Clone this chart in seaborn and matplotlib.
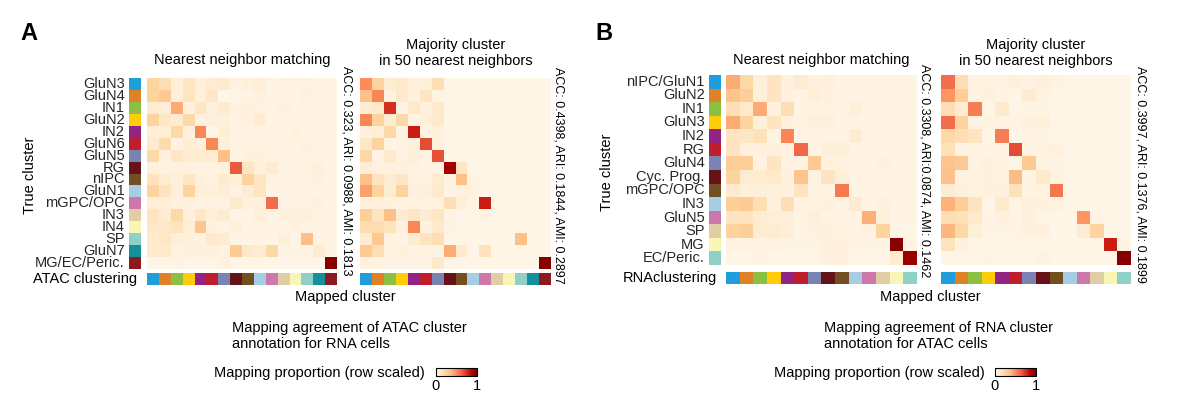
import numpy as np
import pandas as pd
import matplotlib
matplotlib.use("Agg")
import matplotlib.pyplot as plt
import seaborn as sns
from matplotlib.colors import ListedColormap
from matplotlib.cm import ScalarMappable
from matplotlib.colors import Normalize

# ---------------- data ----------------
labels_A = ["GluN3", "GluN4", "IN1", "GluN2", "IN2", "GluN6", "GluN5", "RG", "nIPC",
            "GluN1", "mGPC/OPC", "IN3", "IN4", "SP", "GluN7", "MG/EC/Peric."]
labels_B = ["nIPC/GluN1", "GluN2", "IN1", "GluN3", "IN2", "RG", "GluN4", "Cyc. Prog.",
            "mGPC/OPC", "IN3", "GluN5", "SP", "MG", "EC/Peric."]

cluster_colors = ["#1e9fda", "#df8127", "#8bc043", "#fecd07", "#932484", "#bf1f2c",
                  "#7b83b4", "#651219", "#714f21", "#a5cde4", "#cc78aa", "#e1cda5",
                  "#f9f5b4", "#8fd1c7", "#139099", "#8c1a1e"]

A_nn = [
    [0.25, 0.18, 0.07, 0.14, 0.06, 0.10, 0.11, 0.04, 0.06, 0.08, 0.03, 0.04, 0.04, 0.04, 0.03, 0.03],
    [0.25, 0.30, 0.07, 0.15, 0.06, 0.13, 0.01, 0.02, 0.03, 0.05, 0.03, 0.03, 0.03, 0.05, 0.03, 0.03],
    [0.10, 0.08, 0.42, 0.05, 0.14, 0.06, 0.10, 0.04, 0.05, 0.04, 0.03, 0.05, 0.03, 0.03, 0.03, 0.03],
    [0.25, 0.13, 0.09, 0.22, 0.05, 0.06, 0.06, 0.04, 0.05, 0.10, 0.03, 0.03, 0.03, 0.03, 0.03, 0.03],
    [0.08, 0.08, 0.22, 0.05, 0.52, 0.02, 0.08, 0.04, 0.04, 0.03, 0.03, 0.03, 0.05, 0.03, 0.03, 0.03],
    [0.11, 0.21, 0.04, 0.08, 0.07, 0.52, 0.07, 0.03, 0.03, 0.03, 0.03, 0.03, 0.03, 0.05, 0.03, 0.03],
    [0.22, 0.05, 0.13, 0.09, 0.10, 0.09, 0.35, 0.03, 0.05, 0.05, 0.04, 0.04, 0.04, 0.04, 0.03, 0.03],
    [0.06, 0.04, 0.05, 0.05, 0.04, 0.04, 0.05, 0.65, 0.14, 0.06, 0.09, 0.03, 0.03, 0.03, 0.06, 0.03],
    [0.16, 0.10, 0.06, 0.14, 0.06, 0.04, 0.09, 0.08, 0.26, 0.14, 0.04, 0.03, 0.03, 0.03, 0.05, 0.03],
    [0.25, 0.16, 0.07, 0.25, 0.07, 0.06, 0.08, 0.04, 0.09, 0.15, 0.03, 0.03, 0.03, 0.03, 0.03, 0.03],
    [0.08, 0.08, 0.05, 0.05, 0.04, 0.04, 0.04, 0.12, 0.06, 0.05, 0.60, 0.03, 0.03, 0.03, 0.05, 0.03],
    [0.15, 0.10, 0.22, 0.06, 0.13, 0.07, 0.09, 0.03, 0.03, 0.06, 0.03, 0.05, 0.05, 0.06, 0.03, 0.03],
    [0.13, 0.13, 0.16, 0.08, 0.32, 0.05, 0.04, 0.06, 0.03, 0.04, 0.03, 0.03, 0.05, 0.03, 0.03, 0.03],
    [0.10, 0.13, 0.07, 0.05, 0.04, 0.12, 0.09, 0.03, 0.03, 0.03, 0.03, 0.07, 0.03, 0.36, 0.03, 0.03],
    [0.11, 0.12, 0.04, 0.06, 0.05, 0.06, 0.04, 0.30, 0.12, 0.09, 0.22, 0.03, 0.03, 0.03, 0.09, 0.03],
    [0.02, 0.02, 0.03, 0.02, 0.02, 0.02, 0.05, 0.02, 0.02, 0.02, 0.02, 0.02, 0.02, 0.02, 0.02, 0.98],
]

A_major = [
    [0.50, 0.25, 0.09, 0.12, 0.06, 0.07, 0.18, 0.02, 0.02, 0.02, 0.02, 0.02, 0.02, 0.02, 0.02, 0.02],
    [0.34, 0.52, 0.04, 0.12, 0.05, 0.15, 0.03, 0.02, 0.02, 0.02, 0.02, 0.02, 0.02, 0.02, 0.02, 0.02],
    [0.09, 0.12, 0.75, 0.03, 0.12, 0.05, 0.12, 0.02, 0.02, 0.02, 0.02, 0.02, 0.02, 0.02, 0.02, 0.02],
    [0.52, 0.25, 0.09, 0.22, 0.03, 0.07, 0.12, 0.02, 0.02, 0.02, 0.02, 0.02, 0.02, 0.02, 0.02, 0.02],
    [0.06, 0.08, 0.22, 0.03, 0.80, 0.04, 0.06, 0.02, 0.02, 0.02, 0.02, 0.02, 0.02, 0.02, 0.02, 0.02],
    [0.13, 0.25, 0.03, 0.04, 0.06, 0.68, 0.06, 0.02, 0.02, 0.02, 0.02, 0.02, 0.02, 0.02, 0.02, 0.02],
    [0.23, 0.03, 0.12, 0.04, 0.07, 0.04, 0.67, 0.02, 0.02, 0.02, 0.02, 0.02, 0.02, 0.02, 0.02, 0.02],
    [0.08, 0.05, 0.05, 0.05, 0.04, 0.03, 0.03, 0.90, 0.14, 0.02, 0.02, 0.02, 0.02, 0.02, 0.02, 0.02],
    [0.35, 0.16, 0.09, 0.14, 0.04, 0.04, 0.09, 0.04, 0.35, 0.04, 0.02, 0.02, 0.02, 0.02, 0.02, 0.02],
    [0.45, 0.25, 0.09, 0.25, 0.05, 0.06, 0.12, 0.03, 0.05, 0.05, 0.02, 0.02, 0.02, 0.02, 0.02, 0.02],
    [0.05, 0.06, 0.05, 0.04, 0.04, 0.04, 0.04, 0.18, 0.07, 0.03, 0.80, 0.02, 0.02, 0.02, 0.02, 0.02],
    [0.27, 0.15, 0.35, 0.09, 0.14, 0.09, 0.14, 0.03, 0.02, 0.02, 0.04, 0.02, 0.02, 0.02, 0.02, 0.02],
    [0.20, 0.20, 0.16, 0.05, 0.52, 0.05, 0.12, 0.04, 0.02, 0.02, 0.02, 0.02, 0.02, 0.02, 0.02, 0.02],
    [0.09, 0.30, 0.04, 0.03, 0.09, 0.16, 0.18, 0.02, 0.02, 0.02, 0.02, 0.02, 0.02, 0.35, 0.02, 0.02],
    [0.30, 0.18, 0.04, 0.05, 0.04, 0.04, 0.03, 0.42, 0.12, 0.02, 0.16, 0.02, 0.02, 0.02, 0.02, 0.02],
    [0.05, 0.03, 0.03, 0.03, 0.03, 0.03, 0.12, 0.02, 0.02, 0.02, 0.02, 0.02, 0.02, 0.02, 0.02, 0.98],
]

B_nn = [
    [0.42, 0.22, 0.07, 0.15, 0.05, 0.09, 0.05, 0.06, 0.03, 0.03, 0.03, 0.03, 0.03, 0.03],
    [0.33, 0.28, 0.06, 0.15, 0.05, 0.03, 0.07, 0.05, 0.04, 0.03, 0.03, 0.03, 0.03, 0.03],
    [0.18, 0.12, 0.42, 0.05, 0.18, 0.03, 0.04, 0.04, 0.03, 0.07, 0.03, 0.03, 0.03, 0.03],
    [0.42, 0.25, 0.06, 0.15, 0.05, 0.04, 0.06, 0.06, 0.03, 0.03, 0.03, 0.03, 0.03, 0.03],
    [0.15, 0.13, 0.17, 0.04, 0.52, 0.03, 0.03, 0.03, 0.03, 0.10, 0.03, 0.03, 0.03, 0.03],
    [0.15, 0.05, 0.05, 0.06, 0.04, 0.62, 0.03, 0.07, 0.07, 0.03, 0.03, 0.03, 0.03, 0.03],
    [0.28, 0.28, 0.04, 0.15, 0.04, 0.03, 0.30, 0.05, 0.04, 0.03, 0.03, 0.05, 0.03, 0.03],
    [0.25, 0.09, 0.10, 0.12, 0.05, 0.33, 0.04, 0.15, 0.07, 0.03, 0.03, 0.03, 0.03, 0.03],
    [0.11, 0.06, 0.07, 0.06, 0.06, 0.15, 0.04, 0.04, 0.56, 0.03, 0.03, 0.03, 0.03, 0.03],
    [0.27, 0.30, 0.18, 0.05, 0.18, 0.04, 0.04, 0.05, 0.03, 0.10, 0.03, 0.05, 0.03, 0.03],
    [0.15, 0.15, 0.09, 0.08, 0.07, 0.03, 0.06, 0.03, 0.03, 0.03, 0.41, 0.06, 0.03, 0.03],
    [0.25, 0.28, 0.09, 0.09, 0.08, 0.03, 0.05, 0.05, 0.04, 0.03, 0.05, 0.25, 0.02, 0.02],
    [0.04, 0.04, 0.03, 0.04, 0.03, 0.03, 0.03, 0.05, 0.05, 0.03, 0.03, 0.03, 0.97, 0.03],
    [0.02, 0.02, 0.04, 0.02, 0.02, 0.02, 0.02, 0.05, 0.05, 0.02, 0.02, 0.02, 0.10, 0.93],
]

B_major = [
    [0.60, 0.18, 0.04, 0.04, 0.04, 0.06, 0.04, 0.06, 0.04, 0.02, 0.02, 0.02, 0.02, 0.02],
    [0.48, 0.28, 0.03, 0.05, 0.03, 0.02, 0.09, 0.04, 0.02, 0.02, 0.02, 0.02, 0.02, 0.02],
    [0.18, 0.09, 0.55, 0.02, 0.12, 0.02, 0.03, 0.03, 0.02, 0.02, 0.02, 0.02, 0.02, 0.02],
    [0.60, 0.25, 0.03, 0.04, 0.04, 0.03, 0.05, 0.06, 0.02, 0.02, 0.02, 0.02, 0.02, 0.02],
    [0.22, 0.18, 0.15, 0.02, 0.55, 0.02, 0.03, 0.03, 0.02, 0.02, 0.02, 0.02, 0.02, 0.02],
    [0.17, 0.03, 0.03, 0.03, 0.03, 0.68, 0.03, 0.04, 0.05, 0.02, 0.02, 0.02, 0.02, 0.02],
    [0.33, 0.30, 0.03, 0.05, 0.04, 0.02, 0.30, 0.04, 0.03, 0.02, 0.02, 0.02, 0.02, 0.02],
    [0.34, 0.04, 0.04, 0.05, 0.04, 0.37, 0.03, 0.12, 0.04, 0.02, 0.02, 0.02, 0.02, 0.02],
    [0.09, 0.06, 0.04, 0.05, 0.05, 0.17, 0.03, 0.04, 0.57, 0.02, 0.02, 0.02, 0.02, 0.02],
    [0.40, 0.28, 0.15, 0.02, 0.12, 0.03, 0.06, 0.05, 0.04, 0.02, 0.02, 0.02, 0.02, 0.02],
    [0.18, 0.17, 0.12, 0.03, 0.05, 0.03, 0.06, 0.02, 0.02, 0.02, 0.48, 0.03, 0.02, 0.02],
    [0.39, 0.22, 0.07, 0.03, 0.03, 0.03, 0.05, 0.05, 0.02, 0.02, 0.09, 0.25, 0.02, 0.02],
    [0.16, 0.05, 0.02, 0.02, 0.02, 0.02, 0.02, 0.02, 0.02, 0.02, 0.02, 0.02, 0.80, 0.03],
    [0.02, 0.02, 0.02, 0.03, 0.02, 0.02, 0.02, 0.04, 0.02, 0.02, 0.02, 0.02, 0.02, 0.98],
]

stats_A = ["ACC: 0.323, ARI: 0.0988, AMI: 0.1813", "ACC: 0.4398, ARI: 0.1844, AMI: 0.2897"]
stats_B = ["ACC: 0.3308, ARI:0.0874, AMI: 0.1462", "ACC: 0.3997, ARI: 0.1376, AMI: 0.1899"]

# ---------------- figure ----------------
sns.set_theme(style="white")
plt.rcParams["font.family"] = ["Liberation Sans", "DejaVu Sans"]

W, H = 1183, 398
fig = plt.figure(figsize=(W / 100, H / 100), dpi=100)
FS = 10.5


def box(x0, y0, x1, y1):
    return fig.add_axes([x0 / W, 1 - y1 / H, (x1 - x0) / W, (y1 - y0) / H])


def txt(x, y, s, **kw):
    kw.setdefault("fontsize", FS)
    kw.setdefault("color", "black")
    fig.text(x / W, 1 - y / H, s, **kw)


def strip(ax, n, vertical, labels=None):
    cmap = ListedColormap(cluster_colors[:n])
    idx = np.arange(n)
    data = idx.reshape(-1, 1) if vertical else idx.reshape(1, -1)
    sns.heatmap(data, cmap=cmap, vmin=-0.5, vmax=n - 0.5, cbar=False, ax=ax,
                xticklabels=False, yticklabels=labels if labels is not None else False)
    if labels is not None:
        ax.tick_params(axis="y", length=0, pad=3, labelsize=FS, rotation=0)
        for t in ax.get_yticklabels():
            t.set_verticalalignment("center")


def heat(ax, mat, labels):
    df = pd.DataFrame(mat, index=labels, columns=labels)
    sns.heatmap(df, cmap="OrRd", vmin=0, vmax=1, cbar=False, ax=ax,
                xticklabels=False, yticklabels=False)


def colorbar(x0, y0, x1, y1):
    cax = box(x0, y0, x1, y1)
    sm = ScalarMappable(norm=Normalize(0, 1), cmap="OrRd")
    cb = fig.colorbar(sm, cax=cax, orientation="horizontal")
    cb.set_ticks([0, 0.5, 1], labels=["0", "", "1"])
    cb.outline.set_linewidth(0.8)
    cb.outline.set_edgecolor("black")
    cax.tick_params(axis="x", length=2, width=0.6, pad=2, labelsize=FS, colors="black",
                    direction="in", top=True)


def panel(labels, m1, m2, stats, geo, clust_label, stat_pos):
    n = len(labels)
    rs, h1, h2, ytop, ybot, cs0, cs1 = geo
    ax_rs = box(rs[0], ytop, rs[1], ybot)
    strip(ax_rs, n, True, labels)
    heat(box(h1[0], ytop, h1[1], ybot), m1, labels)
    heat(box(h2[0], ytop, h2[1], ybot), m2, labels)
    strip(box(h1[0], cs0, h1[1], cs1), n, False)
    strip(box(h2[0], cs0, h2[1], cs1), n, False)
    # stats text
    for s, (sx, sy) in zip(stats, stat_pos):
        txt(sx, sy, s, rotation=-90, ha="center", va="center", fontsize=9.0)
    # titles
    txt((h1[0] + h1[1]) / 2, 60, "Nearest neighbor matching", ha="center", va="center")
    txt((h2[0] + h2[1]) / 2, 45, "Majority cluster", ha="center", va="center")
    txt((h2[0] + h2[1]) / 2, 61, "in 50 nearest neighbors", ha="center", va="center")
    # column strip label
    txt(rs[1] - 4, (cs0 + cs1) / 2, clust_label, ha="right", va="center")


panel(labels_A, A_nn, A_major, stats_A,
      ((129, 141), (147, 337), (360, 551), 78, 269, 273, 285), "ATAC clustering",
      [(346, 171), (558, 175)])
panel(labels_B, B_nn, B_major, stats_B,
      ((709, 721), (726, 917), (941, 1131), 75, 265, 272, 284), "RNAclustering",
      [(925, 171), (1140, 174)])

# panel letters and axis titles
txt(29, 34, "A", ha="center", va="center", fontsize=17, fontweight="bold")
txt(604, 34, "B", ha="center", va="center", fontsize=17, fontweight="bold")
txt(30, 175, "True cluster", rotation=90, ha="center", va="center")
txt(607, 172, "True cluster", rotation=90, ha="center", va="center")
txt(345, 297, "Mapped cluster", ha="center", va="center")
txt(930, 297, "Mapped cluster", ha="center", va="center")

# bottom captions
txt(232, 328, "Mapping agreement of ATAC cluster", ha="left", va="center")
txt(232, 344, "annotation for RNA cells", ha="left", va="center")
txt(214, 373, "Mapping proportion (row scaled)", ha="left", va="center")
colorbar(436, 368, 477, 376)

txt(824, 328, "Mapping agreement of RNA cluster", ha="left", va="center")
txt(824, 344, "annotation for ATAC cells", ha="left", va="center")
txt(774, 373, "Mapping proportion (row scaled)", ha="left", va="center")
colorbar(995, 368, 1036, 376)

fig.savefig("out.png", dpi=100, facecolor="white")
